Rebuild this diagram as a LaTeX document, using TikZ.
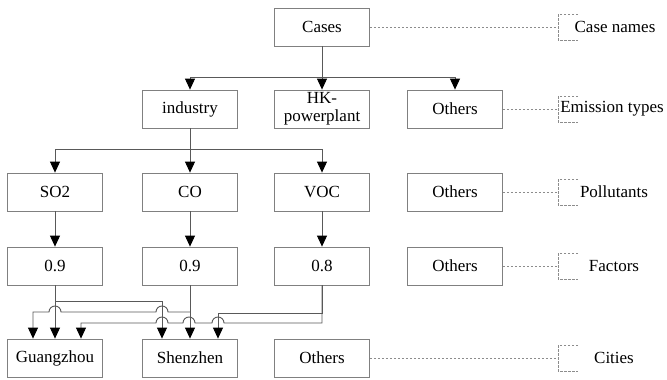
\documentclass[tikz,border=0pt]{standalone}
\usepackage{fontspec}
\setmainfont{Liberation Serif}
\usetikzlibrary{arrows.meta,positioning}
\tikzset{
  box/.style={draw=black!50, line width=0.8pt, minimum width=95pt,
    minimum height=38pt, inner sep=1pt, align=center,
    font=\fontsize{17}{18}\selectfont},
  conn/.style={draw=black!65, line width=0.9pt},
  arr/.style={conn, -{Triangle[width=10pt,length=11pt,color=black]}},
  dashline/.style={draw=black!45, line width=0.7pt, dash pattern=on 2.5pt off 1.5pt},
  tag/.style={font=\fontsize{17}{18}\selectfont}
}
\begin{document}
\begin{tikzpicture}[x=1pt, y=-1pt]
  \useasboundingbox (0,0) rectangle (667,380);

  % boxes
  \node[box] (cases) at (322,27) {Cases};

  \node[box] (industry) at (190,109) {industry};
  \node[box] (hk) at (322,109) {HK-\\powerplant};
  \node[box] (othersA) at (455,109) {Others};

  \node[box] (so2) at (55,192) {SO2};
  \node[box] (co) at (190,192) {CO};
  \node[box] (voc) at (322,192) {VOC};
  \node[box] (othersB) at (455,192) {Others};

  \node[box] (fso2) at (55,266) {0.9};
  \node[box] (fco) at (190,266) {0.9};
  \node[box] (fvoc) at (322,266) {0.8};
  \node[box] (othersC) at (455,266) {Others};

  \node[box] (gz) at (55,358) {Guangzhou};
  \node[box] (sz) at (190,358) {Shenzhen};
  \node[box] (othersD) at (322,358) {Others};

  % level names
  \node[tag] (lblcase) at (615,27) {Case names};
  \node[tag] (lbltype) at (612,109) {Emission types};
  \node[tag] (lblpoll) at (614,192) {Pollutants};
  \node[tag] (lblfact) at (614,266) {Factors};
  \node[tag] (lblcity) at (614,358) {Cities};

  \foreach \y in {27,109,192,266,358}
    \draw[dashline] (578,\y-13) -- (558,\y-13) -- (558,\y+13) -- (578,\y+13);

  \draw[dashline] (cases.east) -- (558,27);
  \draw[dashline] (othersA.east) -- (558,109);
  \draw[dashline] (othersB.east) -- (558,192);
  \draw[dashline] (othersC.east) -- (558,266);
  \draw[dashline] (othersD.east) -- (558,358);

  % cases -> emission types
  \coordinate (busA) at (322,77);
  \draw[arr] (cases) -- (hk);
  \draw[arr] (busA) -| (industry);
  \draw[arr] (busA) -| (othersA);

  % industry -> pollutants
  \coordinate (busB) at (190,149);
  \draw[arr] (industry) -- (co);
  \draw[arr] (busB) -| (so2);
  \draw[arr] (busB) -| (voc);

  % pollutants -> factors
  \draw[arr] (so2) -- (fso2);
  \draw[arr] (co) -- (fco);
  \draw[arr] (voc) -- (fvoc);

  % factors -> cities
  \draw[arr] (fso2) -- (gz);
  \draw[arr] (fso2.south |- 0,301) -| ([xshift=-28pt]sz.north);
  \draw[arr] (fco) -- (sz);
  \draw[arr] (fco.south |- 0,312) -- (168,312) arc (360:180:6)
    -- (61,312) arc (360:180:6) -- (33,312) -- ([xshift=-22pt]gz.north);
  \draw[arr] (fvoc) |- (218,313) -- ([xshift=28pt]sz.north);
  \draw[arr] (fvoc.south) -- (322,323) -- (224,323) arc (360:180:6)
    -- (195,323) arc (360:180:6) -- (168,323) arc (360:180:6)
    -- (81,323) -- ([xshift=26pt]gz.north);
\end{tikzpicture}
\end{document}
